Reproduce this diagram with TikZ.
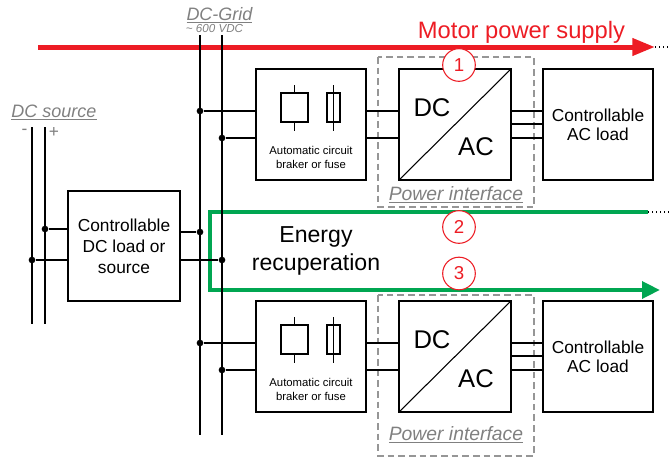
\documentclass[tikz,border=0pt]{standalone}
\usepackage{fontspec}
\setmainfont{Liberation Sans}
\usetikzlibrary{positioning, arrows.meta, calc}
\definecolor{flowred}{RGB}{237,28,36}
\definecolor{flowgreen}{RGB}{0,166,81}
\definecolor{labelgray}{RGB}{128,128,128}
\definecolor{framegray}{RGB}{150,150,150}

\begin{document}
\begin{tikzpicture}[x=0.75pt, y=-0.75pt,
    wire/.style={line width=1.3pt},
    box/.style={draw, line width=1.3pt, minimum height=83.25pt, inner sep=0pt, outer sep=0pt, align=center},
    tap/.style={circle, fill, inner sep=0pt, minimum size=5pt},
    note/.style={text=labelgray, font=\itshape\fontsize{13.5}{15}\selectfont},
    numcircle/.style={circle, draw=flowred, fill=white, text=flowred, line width=0.8pt,
      minimum size=24.5pt, inner sep=0pt, font=\fontsize{14}{14}\selectfont},
    pibox/.style={draw=framegray, line width=1.1pt, dash pattern=on 5pt off 3pt}]
  \useasboundingbox (0,0) rectangle (669,457);

  % power flows
  \coordinate (motor start) at (38,47);
  \coordinate (motor end) at (655,47);
  \coordinate (motor out) at (669,47);
  \draw[flowred, line width=3.75pt, -{Triangle[length=17pt, width=12.5pt]}] (motor start) -- (motor end);
  \draw[dotted, line width=1pt] (motor end) -- (motor out);
  \node[flowred, anchor=base, font=\fontsize{17.8}{20}\selectfont] (motor label) at (521.5,38) {Motor power supply};

  \coordinate (rec in) at (648,212);
  \coordinate (rec lt) at (210,212);
  \coordinate (rec lb) at (210,290);
  \coordinate (rec out) at (660,290);
  \draw[flowgreen, line width=3.2pt, line join=miter, -{Triangle[length=13.5pt, width=12.5pt]}]
    (rec in) -- (rec lt) -- (rec lb) -- (rec out);
  \draw[dotted, line width=1pt] (rec in) -- (669,212);
  \node[align=center, font=\fontsize{17.3}{21}\selectfont] (rec label) at (316,251) {Energy\\recuperation};

  % DC grid
  \coordinate (gridA top) at (200,35);
  \coordinate (gridA bot) at (200,435);
  \coordinate (gridB top) at (222,35);
  \coordinate (gridB bot) at (222,435);
  \draw[wire] (gridA top) -- (gridA bot);
  \draw[wire] (gridB top) -- (gridB bot);
  \node[note, anchor=base] (grid label) at (219.5,20.7) {\underline{DC-Grid}};
  \node[note, anchor=base, font=\itshape\fontsize{8.7}{10}\selectfont] (grid volt) at (214.5,32) {\textasciitilde{} 600 VDC};

  % DC source
  \coordinate (srcM top) at (32,127);
  \coordinate (srcM bot) at (32,324);
  \coordinate (srcP top) at (45,127);
  \coordinate (srcP bot) at (45,324);
  \draw[wire] (srcM top) -- (srcM bot);
  \draw[wire] (srcP top) -- (srcP bot);
  \node[note, anchor=base] (src label) at (54,117) {\underline{DC source}};
  \node[text=labelgray, font=\fontsize{13}{13}\selectfont] (src minus) at (24.5,132) {-};
  \node[text=labelgray, font=\fontsize{13}{13}\selectfont] (src plus) at (54,132) {+};

  \node[box, minimum width=84pt, minimum height=82.5pt, font=\fontsize{13}{15.75}\selectfont] (dcload) at (124,246)
    {Controllable\\DC load or\\source};
  \node[tap] (srcP tap) at (45,229) {};
  \node[tap] (srcM tap) at (32,260) {};
  \node[tap] (gridA tap) at (200,232) {};
  \node[tap] (gridB tap) at (222,260) {};
  \draw[wire] (srcP tap) -- (srcP tap -| dcload.west);
  \draw[wire] (srcM tap) -- (srcM tap -| dcload.west);
  \draw[wire] (dcload.east |- gridA tap) -- (gridA tap);
  \draw[wire] (dcload.east |- gridB tap) -- (gridB tap);

  % two drive branches
  \foreach \row/\ty/\dtop/\dbot/\lab in {up/69/57/207/200, dn/301/295/456/440} {
    \node[box, minimum width=82.5pt, anchor=north west] (brk\row) at (256,\ty) {};
    \draw[line width=1pt] (281,\ty+24) rectangle (308,\ty+53);
    \draw[line width=1pt] (294.5,\ty+16) -- (294.5,\ty+24) (294.5,\ty+53) -- (294.5,\ty+62);
    \draw[line width=1pt] (327,\ty+24) rectangle (340,\ty+53);
    \draw[line width=1pt] (333.5,\ty+16) -- (333.5,\ty+62);
    \node[align=center, font=\fontsize{8.5}{10}\selectfont] (brk\row text) at (311,\ty+88.3)
      {Automatic circuit\\braker or fuse};

    \draw[pibox] (378,\dtop) rectangle (534,\dbot);
    \node[note, anchor=base, font=\itshape\fontsize{14.5}{16}\selectfont] (pi\row) at (456,\lab) {\underline{Power interface}};

    \node[box, minimum width=84pt, anchor=north west] (conv\row) at (399,\ty) {};
    \draw[line width=0.8pt] (conv\row.south west) -- (conv\row.north east);
    \node[font=\fontsize{19.2}{20}\selectfont] (conv\row dc) at (432,\ty+39) {DC};
    \node[font=\fontsize{19.2}{20}\selectfont] (conv\row ac) at (476,\ty+78) {AC};

    \node[box, minimum width=82.5pt, anchor=north west, font=\fontsize{13}{14.5}\selectfont] (load\row) at (543,\ty)
      {Controllable\\AC load};

    \node[tap] (tapA\row) at (200,\ty+42) {};
    \node[tap] (tapB\row) at (222,\ty+69) {};
    \draw[wire] (tapA\row) -- (tapA\row -| brk\row.west);
    \draw[wire] (tapB\row) -- (tapB\row -| brk\row.west);
    \draw[wire] (brk\row.east |- tapA\row) -- (conv\row.west |- tapA\row);
    \draw[wire] (brk\row.east |- tapB\row) -- (conv\row.west |- tapB\row);
    \foreach \dy in {42,55,69}
      \draw[wire] ($(conv\row.north east)+(0,\dy)$) -- ($(load\row.north west)+(0,\dy)$);
  }

  % flow numbers
  \node[numcircle] (num1) at (459,65) {1};
  \node[numcircle] (num2) at (459,227) {2};
  \node[numcircle] (num3) at (459,273.5) {3};
\end{tikzpicture}
\end{document}
